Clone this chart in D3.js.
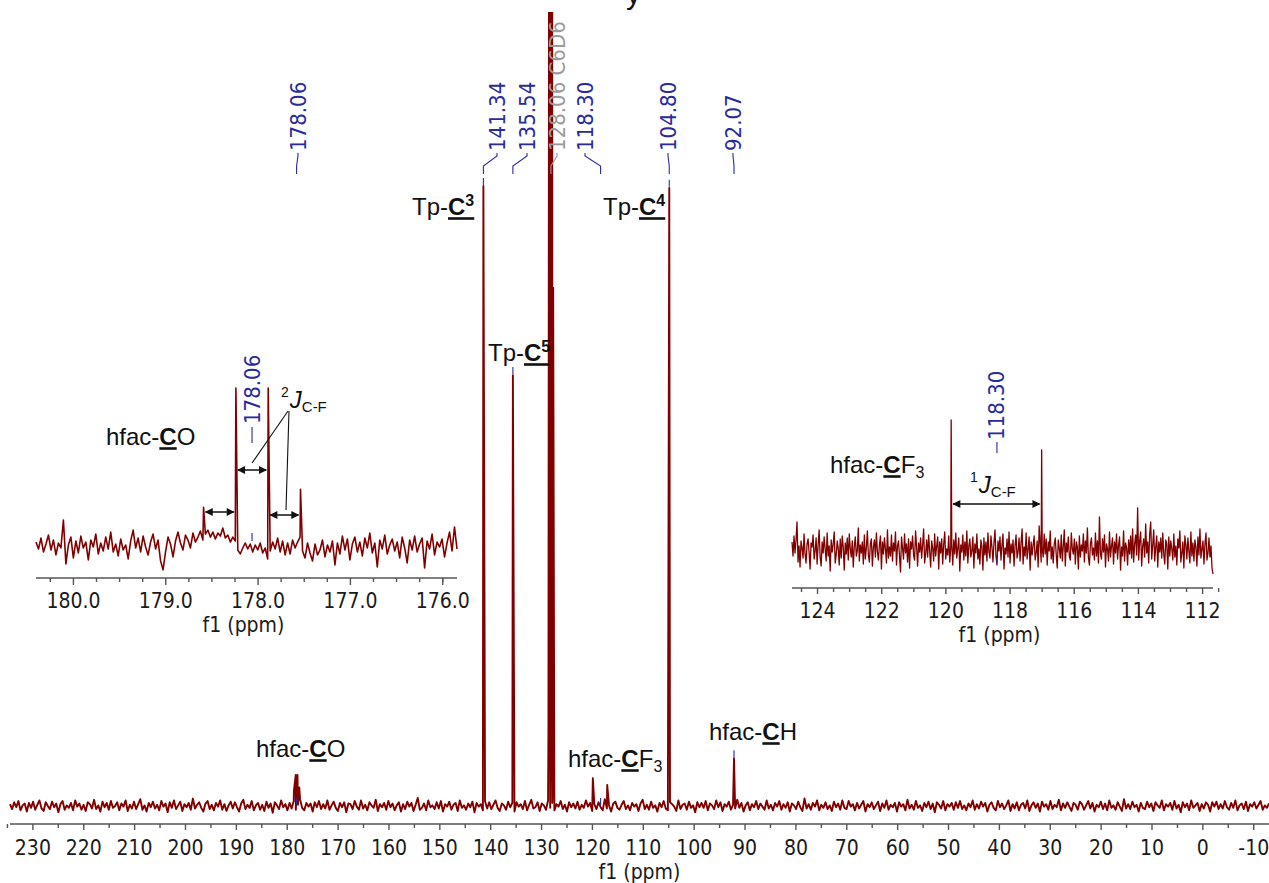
<!DOCTYPE html>
<html>
<head>
<meta charset="utf-8">
<script src="https://cdn.jsdelivr.net/npm/d3@7"></script>
<style>
  body { margin: 0; background: #ffffff; }
  svg { display: block; }
</style>
</head>
<body>
<svg id="chart" width="1269" height="883"></svg>
<script>
// ---------------------------------------------------------------
// 13C{1H} NMR spectrum (C6D6): full range plus two expansions
// ---------------------------------------------------------------

const mainPpmStart = 234.4;
const mainPpmEnd = -13.1;

// Baseline noise of the full spectrum (evenly spaced samples, arbitrary units)
const mainNoise = [
  3,-5,6,-2,8,-7,1,4,-9,5,-3,7,-6,2,9,-4,-8,6,0,-5,7,-2,4,-10,3,8,-6,1,-3,5,
  -7,9,-1,4,-6,2,-8,6,3,-4,10,-5,1,-9,7,-2,5,-6,8,-3,0,6,-7,4,-1,9,-8,2,-4,7,
  -5,3,11,-6,1,-9,5,-2,7,-4,2,-7,8,-1,4,-10,6,-3,9,-5,1,7,-8,3,-2,5,-6,12,-4,2,
  6,-3,-9,4,8,-5,2,-7,5,-1,9,-6,3,-8,1,7,-4,6,-2,-9,4,10,-5,2,-3,8,-7,1,5,-6,
  2,-8,7,-3,4,-11,6,1,-5,9,-2,3,-7,5,-4,8,-6,2,11,-3,-7,5,-1,4,-9,6,-2,8,-5,3,
  -4,9,-6,1,7,-3,-8,5,-2,6,-10,4,3,-5,8,-1,-6,9,-4,2,-7,6,1,-3,10,-8,3,-2,5,-6,
  8,-2,4,-7,1,6,-9,3,-5,7,-1,5,-8,2,13,-6,-3,4,-7,9,-2,1,-5,6,-4,8,-9,3,-1,7,
  -6,2,5,-8,9,-3,1,-6,4,-2,7,-10,5,-1,3,-7,8,-4,6,-5,2,9,-3,-8,4,1,-6,7,-2,5,
  -9,6,-1,3,-5,8,-7,2,10,-4,-2,6,-8,4,1,-6,9,-3,5,-7,3,-1,8,-5,2,-9,6,-2,4,-4,
  7,-6,2,-3,9,-1,5,-8,3,-5,6,-2,-7,11,-4,1,-9,4,7,-3,-6,2,8,-5,1,-7,5,-1,3,-8,
  4,10,-5,2,-6,7,-3,1,-9,5,-2,8,-4,-7,6,3,-1,-8,9,-5,2,4,-6,7,-3,1,-10,6,-2,5,
  -3,8,-7,4,1,-5,9,-2,6,-8,3,-1,7,-6,2,-4,10,-3,5,-9,1,6,-7,3,-2,8,-5,4,-1,-6,
  9,-4,2,-7,5,-1,8,-6,3,-3,6,-9,4,1,-5,7,-2,-8,12,-4,3,-6,5,-1,9,-7,2,-3,6,-5,
  1,-8,7,-2,4,-6,9,-3,-5,8,-1,3,-7,5,-4,2,8,-9,3,-2,6,-5,1,7,-8,4,-3,9,-6,2,
  -2,5,-9,6,-1,3,-7,10,-4,2,-6,8,-3,1,-8,5,-2,7,-5,4,-10,6,2,-4,8,-7,3,-1,5,-6,
  6,-3,8,-5,1,-7,4,-2,9,-6,3,-4,7,-1,5,-9,2,6,-3,-7,8,-2,4,-5,1,9,-8,3,-4,6,
  -7,2,5,-4,9,-8,1,6,-3,4,-9,7,-1,3,-6,8,-5,2,-2,10,-7,4,-3,6,-1,-8,5,2,-6,7,
  3,-6,1,8,-4,5,-9,2,-2,7,-5,4,-7,9,-3,1,-6,6,-1,-8,11,-4,3,-5,7,-2,2,-9,5,-3,
  -5,7,-2,4,-8,6,1,-3,9,-7,3,-1,5,-6,8,-4,2,-10,6,-2,4,-7,9,-3,1,5,-8,3,-4,6,
  2,-9,6,-1,7,-5,3,-4,8,-2,-6,5,-3,9,-7,1,4,-5,7,-8,3,-1,6,-4,2,8,-6,1,-3,4
];

// Resonances of the full spectrum: [ppm, intensity]
// (hfac-CO quartet, Tp-C3, Tp-C5, C6D6 triplet, hfac-CF3, Tp-C4, hfac-CH)
const mainPeaks = [
  [178.585, 25], [178.235, 50], [177.885, 50], [177.535, 30],
  [141.34, 1000],
  [135.54, 695],
  [128.55, 122], [128.30, 3000], [128.18, 40], [128.06, 3000], [127.94, 40],
  [127.82, 3000], [127.70, 40], [127.62, 836],
  [119.82, 45], [117.00, 34],
  [104.80, 997],
  [92.07, 77]
];

// Axis ticks of the full spectrum
const mainTickLabels = [230,220,210,200,190,180,170,160,150,140,130,120,110,100,90,80,70,60,50,40,30,20,10,0,-10];
const mainMinorTicks = [235,225,215,205,195,185,175,165,155,145,135,125,115,105,95,85,75,65,55,45,35,25,15,5,-5];

// Peak picking labels of the full spectrum
const mainLabelPpm = [178.06, 141.34, 135.54, 128.06, 118.30, 104.80, 92.07];
const mainLabelText = ["178.06", "141.34", "135.54", "128.06 C6D6", "118.30", "104.80", "92.07"];
const mainLabelSolvent = [false, false, false, true, false, false, false];

// Expansion 1: hfac-CO region
const coPpmStart = 180.40;
const coPpmEnd = 175.84;
const coNoise = [
  4,-3,8,-6,2,11,-4,6,-9,3,-2,26,-18,1,9,-12,5,
  -7,10,-2,4,-14,6,-1,12,-8,3,-5,9,-3,14,-6,2,-10,
  7,-4,1,-13,5,16,-2,8,-6,10,-1,-9,4,12,-3,6,-15,
  -24,-6,9,2,-11,5,14,3,-4,11,6,-2,13,4,9,15,6,
  12,16,9,14,7,13,10,18,8,11,4,9,5,-4,-8,-2,3,
  -3,2,-6,1,-4,3,-7,-2,-13,-5,4,-3,8,-6,5,-9,3,
  -8,6,-2,4,9,-5,-12,3,-7,-15,2,-9,-4,6,-11,1,-6,
  5,-19,3,-8,10,-4,7,-14,2,9,-6,4,-10,8,-2,13,-7,
  3,-21,6,-3,11,-8,1,7,-5,4,-12,9,-2,-17,6,-4,10,
  -6,2,8,-22,5,-3,12,-9,4,-1,7,-11,3,14,-5,19,-3
];
const coPeaks = [[178.585, 39], [178.235, 159], [177.885, 159], [177.535, 57]];
const coTickLabels = [180, 179, 178, 177, 176];
const coMinorTicks = [180.25,179.75,179.5,179.25,178.75,178.5,178.25,177.75,177.5,177.25,176.75,176.5,176.25,176];
const coLabelPpm = 178.06;

// Expansion 2: hfac-CF3 region
const cfPpmStart = 124.78;
const cfPpmEnd = 111.66;
const cfNoise = [
  8,-6,14,-3,10,28,-12,4,-17,9,2,-8,16,-4,-13,6,11,-2,-19,7,
  3,15,-9,-1,12,-14,5,20,-7,-16,8,-3,13,1,-11,17,-6,4,-21,10,
  -2,6,18,-13,-5,9,2,-15,11,-8,14,3,-20,7,-4,12,-10,16,1,-7,
  9,-17,4,13,-6,-1,22,-11,5,-3,8,-14,15,-9,2,19,-5,-12,6,11,
  -16,3,10,-7,17,-2,-10,5,14,-19,8,-4,12,1,-13,20,-8,3,-6,15,
  -11,7,-1,18,-15,4,9,-6,-22,13,2,-9,16,-3,6,-12,11,-18,8,1,
  14,-5,-10,19,3,-16,7,-2,12,-8,5,21,-13,-4,10,-7,15,-1,-17,9,
  2,-11,16,-6,4,13,-19,8,-3,11,-14,6,18,-9,1,-5,14,-12,3,7,
  -15,10,-4,17,-8,2,12,-21,5,-2,15,-10,8,-6,19,-13,4,11,-7,-1,
  13,-18,6,-3,16,-9,1,-14,10,4,-20,12,-5,8,-11,17,-2,-8,14,3,
  -12,7,20,-6,-15,9,-1,13,-10,5,16,-19,2,-4,11,-7,18,-13,6,-3,
  10,-16,4,15,-8,-2,12,-11,7,21,-14,3,-6,17,-9,1,13,-20,8,-5,
  5,14,-10,-3,9,-17,24,6,-12,2,-7,16,-4,11,-15,8,-1,19,-9,3,
  -13,6,12,-5,-18,10,2,-8,15,-11,4,20,-16,7,-2,13,-6,-10,17,1,
  -4,11,-14,8,3,-19,14,-7,5,-1,16,-12,9,-3,22,-8,-15,6,12,-5,
  2,-10,17,-6,9,-13,33,-4,-9,11,-2,15,-17,6,1,-11,18,-7,4,12,
  -14,8,-3,16,-9,5,13,-20,3,-6,19,-11,7,2,-15,10,-4,14,-8,21,
  -12,6,15,-5,42,-10,9,18,-16,4,11,-7,26,-3,8,-13,16,28,-9,5,
  20,-11,3,14,-17,8,-2,12,-8,17,-4,-14,10,6,-19,13,-6,9,1,-10,
  16,-7,4,-15,11,2,19,-12,-3,8,-18,14,5,-9,12,-1,-13,18,-6,7,
  -11,10,3,-16,13,-5,21,-8,1,9,-14,6,17,-10,-3,12,-7,4,-18,-24
];
const cfPeaks = [[119.82, 130], [117.00, 100]];
const cfTickLabels = [124, 122, 120, 118, 116, 114, 112];
const cfMinorTicks = [124.5,123.5,123,122.5,121.5,121,120.5,119.5,119,118.5,117.5,117,116.5,115.5,115,114.5,113.5,113,112.5,111.5];
const cfLabelPpm = 118.30;

// ---------------------------------------------------------------
const RED = "#800000";
const BLUE = "#2a2a9c";
const GRAY = "#9a9a9a";
const AXIS = "#555555";
const INK = "#111111";
const NUM_FONT = "'DejaVu Sans Condensed','DejaVu Sans',sans-serif";
const TXT_FONT = "'Liberation Sans',Arial,sans-serif";
const plainNumber = d => String(d);   // ASCII hyphen for negative ticks

const svg = d3.select("#chart");
const defs = svg.append("defs");

// arrow head for the coupling-constant arrows
defs.append("marker")
  .attr("id", "head")
  .attr("viewBox", "0 0 10 10")
  .attr("refX", 9).attr("refY", 5)
  .attr("markerWidth", 10).attr("markerHeight", 8)
  .attr("markerUnits", "userSpaceOnUse")
  .attr("orient", "auto-start-reverse")
  .append("path").attr("d", "M0,0 L10,5 L0,10 Z").attr("fill", INK);

// merge evenly sampled noise with the resonance points, ordered by ppm
function buildTrace(noise, start, end, peaks) {
  const step = (end - start) / (noise.length - 1);
  const pts = noise.map((v, i) => [start + i * step, v]);
  return pts.concat(peaks).sort((a, b) => b[0] - a[0]);
}

function drawAxis(x, y0, major, minor, fmt, opts) {
  const g = svg.append("g").attr("transform", `translate(0,${y0})`);
  // continuous axis line
  g.append("line")
    .attr("x1", x.range()[0]).attr("x2", x.range()[1])
    .attr("y1", 0).attr("y2", 0)
    .attr("stroke", AXIS).attr("stroke-width", 1.6);
  const minorG = g.append("g").call(
    d3.axisBottom(x).tickValues(minor).tickSize(opts.minorLen).tickSizeOuter(0).tickFormat(""));
  const majorG = g.append("g").call(
    d3.axisBottom(x).tickValues(major).tickSize(opts.majorLen).tickSizeOuter(0).tickFormat(fmt));
  [minorG, majorG].forEach(a => {
    a.select(".domain").remove();
    a.selectAll(".tick line").attr("stroke", AXIS).attr("stroke-width", 1.4);
  });
  majorG.selectAll(".tick text")
    .attr("y", opts.labelOffset).attr("dy", null)
    .attr("fill", "#1a1a1a")
    .attr("font-family", NUM_FONT)
    .attr("font-size", opts.fontSize);
  // axis title
  const mid = (x.range()[0] + x.range()[1]) / 2;
  g.append("text")
    .attr("x", mid + (opts.titleShift || 0)).attr("y", opts.titleOffset)
    .attr("text-anchor", "middle")
    .attr("fill", "#1a1a1a")
    .attr("font-family", NUM_FONT)
    .attr("font-size", opts.fontSize)
    .text("f1 (ppm)");
}

function drawTrace(data, x, y, clipId, clipRect, width) {
  defs.append("clipPath").attr("id", clipId)
    .append("rect")
    .attr("x", clipRect[0]).attr("y", clipRect[1])
    .attr("width", clipRect[2]).attr("height", clipRect[3]);
  const line = d3.line().x(d => x(d[0])).y(d => y(d[1]));
  svg.append("path")
    .datum(data)
    .attr("clip-path", `url(#${clipId})`)
    .attr("fill", "none")
    .attr("stroke", RED)
    .attr("stroke-width", width)
    .attr("stroke-linejoin", "round")
    .attr("d", line);
}

// rotated peak label, reading upward, bottom end at (x, yBottom)
function peakLabel(text, x, yBottom, color) {
  svg.append("text")
    .attr("transform", `translate(${x},${yBottom}) rotate(-90)`)
    .attr("dominant-baseline", "central")
    .attr("fill", color)
    .attr("font-family", NUM_FONT)
    .attr("font-size", 22)
    .text(text);
}

function heightAt(peaks, ppm) {
  const p = peaks.find(d => Math.abs(d[0] - ppm) < 0.005);
  return p ? p[1] : 0;
}

// chemical-group annotation with the underlined bold carbon
function annotate(spec) {
  const t = svg.append("text")
    .attr("x", spec.x).attr("y", spec.y)
    .attr("fill", INK)
    .attr("font-family", TXT_FONT)
    .attr("font-size", 24);
  t.append("tspan").text(spec.pre);
  t.append("tspan").attr("font-weight", "bold").text("C");
  if (spec.sup) t.append("tspan").attr("font-size", 16).attr("font-weight", "bold").attr("dy", -9).text(spec.sup);
  if (spec.rest) t.append("tspan").text(spec.rest);
  if (spec.sub) t.append("tspan").attr("font-size", 16).attr("dy", 5).text(spec.sub);
  const node = t.node();
  const i = spec.pre.length;
  const s = node.getStartPositionOfChar(i).x;
  const e = node.getEndPositionOfChar(spec.sup ? i + 1 : i).x;
  svg.append("line")
    .attr("x1", s).attr("x2", e)
    .attr("y1", spec.y + 3.5).attr("y2", spec.y + 3.5)
    .attr("stroke", INK).attr("stroke-width", 2.6);
}

// coupling constant label: superscript order, italic J, subscript C-F
function couplingLabel(order, x, y) {
  const t = svg.append("text")
    .attr("x", x).attr("y", y)
    .attr("fill", INK)
    .attr("font-family", TXT_FONT)
    .attr("font-size", 24);
  t.append("tspan").attr("font-size", 14).attr("dy", -11).text(order);
  t.append("tspan").attr("font-style", "italic").attr("dy", 11).attr("dx", 1).text("J");
  t.append("tspan").attr("font-size", 15).attr("dy", 4).text("C-F");
}

function arrow(x1, x2, y) {
  svg.append("line")
    .attr("x1", x1).attr("x2", x2).attr("y1", y).attr("y2", y)
    .attr("stroke", INK).attr("stroke-width", 1.5)
    .attr("marker-start", "url(#head)")
    .attr("marker-end", "url(#head)");
}

function leader(points, color) {
  svg.append("path")
    .attr("d", d3.line()(points))
    .attr("fill", "none")
    .attr("stroke", color)
    .attr("stroke-width", 1.1);
}

// ---------------------------------------------------------------
// Full spectrum
const xMain = d3.scaleLinear().domain([mainPpmStart, mainPpmEnd]).range([10, 1269]);
const yMain = d3.scaleLinear().domain([0, 1000]).range([806, 186]);

drawTrace(buildTrace(mainNoise, mainPpmStart, mainPpmEnd, mainPeaks),
  xMain, yMain, "clip-main", [0, 12, 1269, 812], 1.9);

drawAxis(xMain, 824, mainTickLabels, mainMinorTicks, plainNumber,
  { majorLen: 6, minorLen: 4, labelOffset: 31, titleOffset: 55, fontSize: 21 });

// peak labels across the top
const labelSlots = [298, 497, 527, 557, 585, 668, 733];
mainLabelPpm.forEach((ppm, i) => {
  const color = mainLabelSolvent[i] ? GRAY : BLUE;
  const lx = labelSlots[i];
  const px = xMain(ppm);
  peakLabel(mainLabelText[i], lx, 151, color);
  leader([[lx, 153], [lx, 156], [px, 166], [px, 174]], color);
  if (!mainLabelSolvent[i]) {
    const yTop = yMain(heightAt(mainPeaks, ppm));
    leader([[px, yTop - 8], [px, yTop - 1]], BLUE);
  }
});

// ---------------------------------------------------------------
// Expansion: hfac-CO
const xCO = d3.scaleLinear().domain([coPpmStart, coPpmEnd]).range([36, 457]);
const yCO = d3.scaleLinear().domain([0, 160]).range([546, 387]);

drawTrace(buildTrace(coNoise, coPpmStart, coPpmEnd, coPeaks),
  xCO, yCO, "clip-co", [30, 300, 435, 300], 1.6);
drawAxis(xCO, 578, coTickLabels, coMinorTicks, d3.format(".1f"),
  { majorLen: 7, minorLen: 4, labelOffset: 30, titleOffset: 54, fontSize: 21, titleShift: -3 });

peakLabel(coLabelPpm.toFixed(2), xCO(coLabelPpm), 424, BLUE);
leader([[xCO(coLabelPpm), 427], [xCO(coLabelPpm), 443]], BLUE);
leader([[xCO(coLabelPpm), 533], [xCO(coLabelPpm), 541]], BLUE);

// 2J(C-F) spacings between neighbouring quartet lines
const coArrowY = [512, 470, 515];
for (let i = 0; i < coPeaks.length - 1; i++) {
  arrow(xCO(coPeaks[i][0]) + 2, xCO(coPeaks[i + 1][0]) - 2, coArrowY[i]);
}
couplingLabel("2", 281, 408);
leader([[288, 411], [xCO(coLabelPpm), 463]], INK);
leader([[289, 411], [286, 510]], INK);

// ---------------------------------------------------------------
// Expansion: hfac-CF3
const xCF = d3.scaleLinear().domain([cfPpmStart, cfPpmEnd]).range([792, 1213]);
const yCF = d3.scaleLinear().domain([0, 130]).range([550, 420]);

drawTrace(buildTrace(cfNoise, cfPpmStart, cfPpmEnd, cfPeaks),
  xCF, yCF, "clip-cf", [786, 330, 434, 300], 1.3);
drawAxis(xCF, 588, cfTickLabels, cfMinorTicks, plainNumber,
  { majorLen: 6, minorLen: 4, labelOffset: 30, titleOffset: 54, fontSize: 21, titleShift: -3 });

peakLabel(cfLabelPpm.toFixed(2), xCF(cfLabelPpm) - 3, 440, BLUE);
leader([[xCF(cfLabelPpm) - 3, 442], [xCF(cfLabelPpm) - 3, 453]], BLUE);
leader([[xCF(cfLabelPpm) - 3, 557], [xCF(cfLabelPpm) - 3, 563]], BLUE);

arrow(xCF(cfPeaks[0][0]) + 2, xCF(cfPeaks[1][0]) - 2, 504);
couplingLabel("1", 970, 493);

// ---------------------------------------------------------------
// Assignments
annotate({ pre: "Tp-", sup: "3", x: 412, y: 215 });
annotate({ pre: "Tp-", sup: "4", x: 603, y: 215 });
annotate({ pre: "Tp-", sup: "5", x: 488, y: 361 });
annotate({ pre: "hfac-", rest: "O", x: 256, y: 757 });
annotate({ pre: "hfac-", rest: "F", sub: "3", x: 568, y: 767 });
annotate({ pre: "hfac-", rest: "H", x: 709, y: 740 });
annotate({ pre: "hfac-", rest: "O", x: 106, y: 445 });
annotate({ pre: "hfac-", rest: "F", sub: "3", x: 830, y: 473 });

// tail of the heading line above the plot
svg.append("text")
  .attr("x", 626).attr("y", 4)
  .attr("fill", INK)
  .attr("font-family", TXT_FONT)
  .attr("font-size", 30)
  .text("y");
</script>
</body>
</html>
